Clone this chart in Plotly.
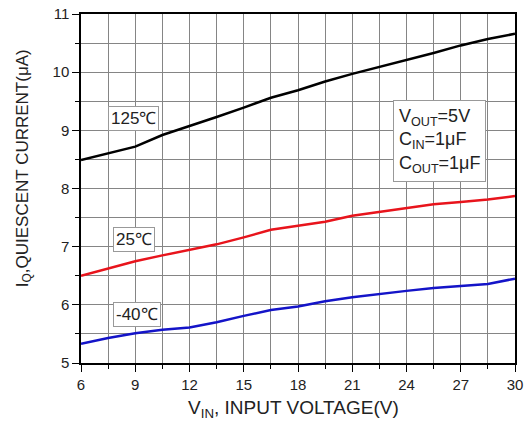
import plotly.graph_objects as go

vin = [6, 7.5, 9, 10.5, 12, 13.5, 15, 16.5, 18, 19.5, 21, 22.5, 24, 25.5, 27, 28.5, 30]
iq_125 = [8.49, 8.61, 8.72, 8.92, 9.07, 9.23, 9.39, 9.56, 9.69, 9.84, 9.97, 10.09, 10.2, 10.33, 10.46, 10.57, 10.66]
iq_25 = [6.5, 6.63, 6.75, 6.85, 6.94, 7.04, 7.16, 7.29, 7.36, 7.43, 7.53, 7.6, 7.66, 7.73, 7.77, 7.81, 7.87]
iq_m40 = [5.33, 5.43, 5.51, 5.57, 5.61, 5.7, 5.81, 5.91, 5.97, 6.06, 6.13, 6.19, 6.24, 6.29, 6.32, 6.36, 6.45]

labels = ["125℃", "25℃", "-40℃"]
label_x = [8.93, 8.93, 9.1]
label_y = [9.21, 7.13, 5.83]

x_title = "V<sub>IN</sub>, INPUT VOLTAGE(V)"
y_title = "I<sub>Q</sub>,QUIESCENT CURRENT(μA)"
cond_text = "V<sub>OUT</sub>=5V<br>C<sub>IN</sub>=1μF<br>C<sub>OUT</sub>=1μF"

FONT = "Liberation Sans, Arial, sans-serif"
TXT = "#222222"

fig = go.Figure()
for ys, col in [(iq_125, "#000000"), (iq_25, "#e8141c"), (iq_m40, "#1414c8")]:
    fig.add_trace(go.Scatter(x=vin, y=ys, mode="lines",
                             line=dict(color=col, width=2.5), showlegend=False))

for t, x, y in zip(labels, label_x, label_y):
    fig.add_annotation(x=x, y=y, text=t, showarrow=False,
                       font=dict(family=FONT, size=17, color=TXT),
                       bgcolor="white", bordercolor="#999", borderwidth=1, borderpad=2)

fig.add_annotation(x=25.83, y=8.82, text=cond_text,
                   showarrow=False, align="left",
                   font=dict(family=FONT, size=18, color=TXT),
                   bgcolor="white", bordercolor="#999", borderwidth=1, borderpad=5)

# axis titles
fig.add_annotation(x=17.75, xref="x", y=-0.132, yref="paper", text=x_title,
                   showarrow=False, xanchor="center", yanchor="middle",
                   font=dict(family=FONT, size=19, color=TXT))
fig.add_annotation(x=-0.1313, xref="paper", y=8.35, yref="y", text=y_title,
                   showarrow=False, textangle=-90, xanchor="center", yanchor="middle",
                   font=dict(family=FONT, size=17, color=TXT))

grid_col = "#858585"
common = dict(showgrid=True, gridcolor=grid_col, gridwidth=1, automargin=False,
              ticks="outside", ticklen=7, tickcolor="black", tickwidth=1,
              showline=True, linecolor="black", linewidth=1.5, mirror=True,
              tickfont=dict(size=15, family=FONT, color=TXT), zeroline=False)

fig.update_layout(
    width=527, height=423,
    margin=dict(l=81, r=12, t=14, b=60, autoexpand=False),
    paper_bgcolor="white", plot_bgcolor="white",
    font=dict(family=FONT, color=TXT),
    hovermode=False,
    xaxis=dict(range=[6, 30], dtick=3, tick0=6,
               minor=dict(dtick=1.5, tick0=6, showgrid=True, gridcolor=grid_col, gridwidth=1,
                          ticks="outside", ticklen=4, tickcolor="black"),
               **common),
    yaxis=dict(range=[5, 11], dtick=1, tick0=5,
               minor=dict(dtick=0.5, tick0=5, showgrid=True, gridcolor=grid_col, gridwidth=1,
                          ticks="outside", ticklen=4, tickcolor="black"),
               **common),
)

fig.write_html(
    "out.html",
    config={"displayModeBar": False, "responsive": False},
    post_script=("document.body.style.margin='0px';"
                 "document.body.style.overflow='hidden';"
                 "document.documentElement.style.overflow='hidden';"),
)
